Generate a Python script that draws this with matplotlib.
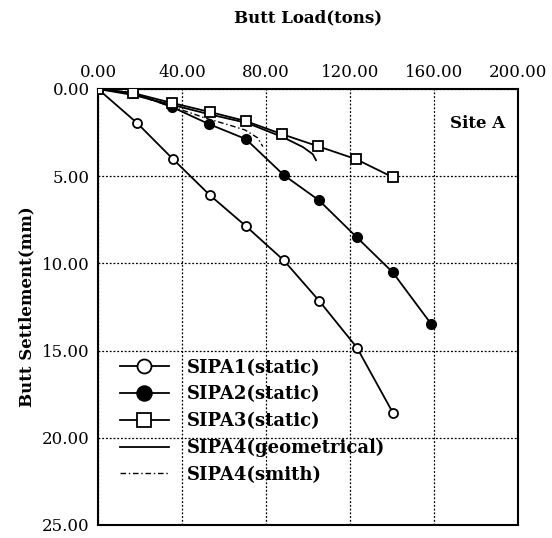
import matplotlib
matplotlib.use("Agg")
import matplotlib.pyplot as plt

# (load in tons, settlement in mm)
load_sipa1 = [0.0, 18.6, 35.7, 53.3, 70.5, 88.5, 105.2, 123.3, 140.4]
sett_sipa1 = [0.0, 1.95, 4.02, 6.09, 7.87, 9.83, 12.13, 14.83, 18.56]

load_sipa2 = [0.0, 16.7, 35.2, 52.8, 70.4, 88.5, 105.2, 123.3, 140.4, 158.5]
sett_sipa2 = [0.0, 0.23, 1.03, 2.01, 2.87, 4.94, 6.38, 8.51, 10.52, 13.45]

load_sipa3 = [0.0, 16.7, 35.2, 53.3, 70.4, 87.6, 104.7, 122.8, 140.4]
sett_sipa3 = [0.0, 0.23, 0.80, 1.32, 1.84, 2.59, 3.28, 4.02, 5.06]

load_geom = [0.0, 17.0, 35.7, 53.0, 71.0, 88.0, 97.6, 102.3, 103.8]
sett_geom = [0.0, 0.35, 0.92, 1.45, 1.95, 2.76, 3.33, 3.74, 4.08]

load_smith = [0.0, 17.0, 35.0, 52.0, 62.0, 70.0, 76.0, 78.5]
sett_smith = [0.0, 0.30, 1.00, 1.70, 2.05, 2.35, 2.80, 3.30]

x_ticks = [0, 40, 80, 120, 160, 200]
y_ticks = [0, 5, 10, 15, 20, 25]

plt.rcParams['font.family'] = ['DejaVu Serif']

fig = plt.figure(figsize=(5.52, 5.38), dpi=100)
ax = fig.add_axes([0.1775, 0.0242, 0.7609, 0.8104])

ax.plot(load_sipa1, sett_sipa1, color='k', lw=1.3, marker='o', ms=6.5,
        mfc='white', mec='k', mew=1.3, label='SIPA1(static)', zorder=5)
ax.plot(load_sipa2, sett_sipa2, color='k', lw=1.3, marker='o', ms=7,
        mfc='k', mec='k', label='SIPA2(static)', zorder=5)
ax.plot(load_sipa3, sett_sipa3, color='k', lw=1.3, marker='s', ms=6.5,
        mfc='white', mec='k', mew=1.3, label='SIPA3(static)', zorder=5)
ax.plot(load_geom, sett_geom, color='k', lw=1.3, label='SIPA4(geometrical)', zorder=4)
ax.plot(load_smith, sett_smith, color='k', lw=1.0, ls=(0, (4, 2, 1, 2)),
        label='SIPA4(smith)', zorder=4)

ax.set_xlim(0, 200)
ax.set_ylim(25, 0)
ax.set_xticks(x_ticks)
ax.set_yticks(y_ticks)
ax.set_xticklabels(['%.2f' % v for v in x_ticks])
ax.set_yticklabels(['%.2f' % v for v in y_ticks])
ax.xaxis.tick_top()
ax.xaxis.set_label_position('top')
ax.tick_params(length=0, labelsize=12, pad=6)

ax.grid(True, ls=(0, (1.5, 1.5)), color='k', lw=0.9)
for sp in ax.spines.values():
    sp.set_linewidth(1.5)

ax.set_xlabel('Butt Load(tons)', fontsize=12, fontweight='bold', labelpad=30)
ax.set_ylabel('Butt Settlement(mm)', fontsize=12, fontweight='bold', labelpad=5)

ax.text(0.97, 0.92, 'Site A', transform=ax.transAxes, ha='right', va='center',
        fontsize=12, fontweight='bold')

leg = ax.legend(loc='upper left', bbox_to_anchor=(0.035, 0.398), frameon=False,
                prop={'size': 13, 'weight': 'bold'}, handlelength=2.7,
                handletextpad=1.0, labelspacing=0.48, markerscale=1.55,
                borderaxespad=0)

fig.savefig('out.png', dpi=100)
